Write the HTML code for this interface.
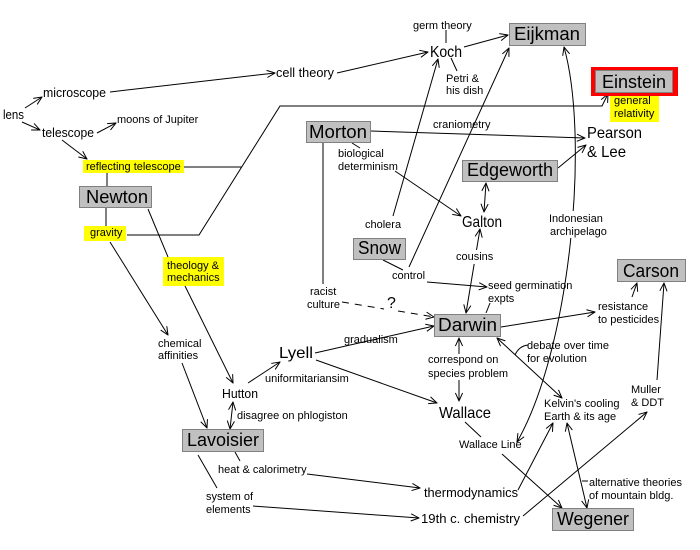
<!DOCTYPE html>
<html><head><meta charset="utf-8"><style>
html,body{margin:0;padding:0;background:#fff}
svg{display:block}
text{font-family:"Liberation Sans",sans-serif;fill:#000}
.s{font-size:11px}
.m{font-size:13px}
.b{font-size:16px}
.x{font-size:18px}
</style></head><body>
<svg width="700" height="550" viewBox="0 0 700 550" xmlns="http://www.w3.org/2000/svg">
<defs>
<marker id="ar" viewBox="0 0 10 10" refX="9.5" refY="5" markerWidth="9" markerHeight="9" markerUnits="userSpaceOnUse" orient="auto-start-reverse">
<path d="M0.5,1 L9.5,5 L0.5,9" fill="none" stroke="#000" stroke-width="1.1"/>
</marker>
</defs>
<rect width="700" height="550" fill="#fff"/>

<!-- yellow labels backgrounds -->
<rect x="83" y="160" width="101" height="13" fill="#ffff00"/>
<rect x="84" y="226" width="42" height="15" fill="#ffff00"/>
<rect x="163" y="257" width="61" height="29" fill="#ffff00"/>
<rect x="610" y="96" width="49" height="26" fill="#ffff00"/>

<g stroke="#000" stroke-width="1" fill="none">
<path d="M25,108 L42,97" marker-end="url(#ar)"/>
<path d="M22,122 L40,130" marker-end="url(#ar)"/>
<path d="M97,133 L116,123" marker-end="url(#ar)"/>
<path d="M62,140 L87,159" marker-end="url(#ar)"/>
<path d="M110,92 L275,73" marker-end="url(#ar)"/>
<path d="M337,73 L428,52" marker-end="url(#ar)"/>
<path d="M446,30 L446,43"/>
<path d="M451,58 L457,71"/>
<path d="M464,47 L508,35" marker-end="url(#ar)"/>
<path d="M393,216 L438,59" marker-end="url(#ar)"/>
<path d="M409,267 L509,48" marker-end="url(#ar)"/>
<path d="M383,260 L403,270"/>
<path d="M427,282 L487,287" marker-end="url(#ar)"/>
<path d="M371,131 L585,138" marker-end="url(#ar)"/>
<path d="M352,143 L360,148"/>
<path d="M395,171 L461,216" marker-end="url(#ar)"/>
<path d="M323,143 L323,284"/>
<path d="M342,302 L384,309" stroke-dasharray="7,6"/>
<path d="M398,311 L434,317" stroke-dasharray="7,6" marker-end="url(#ar)"/>
<path d="M486,183 L484,212" marker-start="url(#ar)" marker-end="url(#ar)"/>
<path d="M558,168 L586,145" marker-end="url(#ar)"/>
<path d="M564,47 C590,140 570,350 517,442" marker-start="url(#ar)" marker-end="url(#ar)"/>
<path d="M480,229 L466,313" marker-start="url(#ar)" marker-end="url(#ar)"/>
<path d="M490,303 L486,313"/>
<path d="M501,327 L595,312" marker-end="url(#ar)"/>
<path d="M632,297 L637,283" marker-end="url(#ar)"/>
<path d="M657,380 L664,283" marker-end="url(#ar)"/>
<path d="M523,516 L647,412" marker-end="url(#ar)"/>
<path d="M497,338 L562,398" marker-start="url(#ar)" marker-end="url(#ar)"/>
<path d="M528,345 Q519,346 515,355"/>
<path d="M465,422 L481,437"/>
<path d="M502,454 L562,508" marker-end="url(#ar)"/>
<path d="M459,354 L459,338" marker-end="url(#ar)"/>
<path d="M459,380 L459,401" marker-end="url(#ar)"/>
<path d="M315,353 L434,326" marker-end="url(#ar)"/>
<path d="M316,360 L437,403" marker-end="url(#ar)"/>
<path d="M248,383 L280,362" marker-end="url(#ar)"/>
<path d="M233,402 L230,429" marker-start="url(#ar)" marker-end="url(#ar)"/>
<path d="M148,209 L168,257"/>
<path d="M185,286 L233,383" marker-end="url(#ar)"/>
<path d="M106,208 L106,226"/>
<path d="M110,242 L168,335" marker-end="url(#ar)"/>
<path d="M182,363 L207,428" marker-end="url(#ar)"/>
<path d="M127,235 L199,235 L280,106 L602,106 L608,94" marker-end="url(#ar)"/>
<path d="M184,167 L242,167"/>
<path d="M107,173 L107,186"/>
<path d="M235,452 L240,461"/>
<path d="M307,474 L420,488" marker-end="url(#ar)"/>
<path d="M198,455 L217,488"/>
<path d="M253,506 L419,518" marker-end="url(#ar)"/>
<path d="M518,490 L553,423" marker-end="url(#ar)"/>
<path d="M567,423 L587,508" marker-start="url(#ar)" marker-end="url(#ar)"/>
<path d="M588,481 L582,481"/>
</g>

<!-- white backgrounds for labels that interrupt lines -->
<rect x="547" y="211" width="60" height="27" fill="#fff"/>
<rect x="454" y="250" width="38" height="14" fill="#fff"/>

<!-- boxes -->
<rect x="509.5" y="23.5" width="76" height="22" fill="#c0c0c0" stroke="#808080"/>
<rect x="591" y="67" width="87" height="29" fill="#ff0000"/>
<rect x="595.5" y="70.5" width="77" height="22" fill="#c0c0c0" stroke="#808080"/>
<rect x="306.5" y="121.5" width="64" height="21" fill="#c0c0c0" stroke="#808080"/>
<rect x="462.5" y="160.5" width="95" height="21" fill="#c0c0c0" stroke="#808080"/>
<rect x="79.5" y="186.5" width="72" height="21" fill="#c0c0c0" stroke="#808080"/>
<rect x="353.5" y="238.5" width="52" height="21" fill="#c0c0c0" stroke="#808080"/>
<rect x="434.5" y="314.5" width="66" height="22" fill="#c0c0c0" stroke="#808080"/>
<rect x="617.5" y="259.5" width="68" height="22" fill="#c0c0c0" stroke="#808080"/>
<rect x="182.5" y="429.5" width="81" height="22" fill="#c0c0c0" stroke="#808080"/>
<rect x="552.5" y="508.5" width="81" height="22" fill="#c0c0c0" stroke="#808080"/>

<!-- box texts -->
<text class="x" x="514" y="40" textLength="66" lengthAdjust="spacingAndGlyphs">Eijkman</text>
<text class="x" x="602" y="88" textLength="64" lengthAdjust="spacingAndGlyphs">Einstein</text>
<text class="x" x="309" y="138" textLength="58" lengthAdjust="spacingAndGlyphs">Morton</text>
<text class="x" x="467" y="176" textLength="86" lengthAdjust="spacingAndGlyphs">Edgeworth</text>
<text class="x" x="86" y="203" textLength="62" lengthAdjust="spacingAndGlyphs">Newton</text>
<text class="x" x="358" y="254" textLength="43" lengthAdjust="spacingAndGlyphs">Snow</text>
<text class="x" x="438" y="331" textLength="59" lengthAdjust="spacingAndGlyphs">Darwin</text>
<text class="x" x="623" y="277" textLength="56" lengthAdjust="spacingAndGlyphs">Carson</text>
<text class="x" x="187" y="446" textLength="72" lengthAdjust="spacingAndGlyphs">Lavoisier</text>
<text class="x" x="557" y="525" textLength="72" lengthAdjust="spacingAndGlyphs">Wegener</text>

<!-- big plain labels -->
<text class="b" x="430" y="57" textLength="32" lengthAdjust="spacingAndGlyphs">Koch</text>
<text class="b" x="462" y="227" textLength="40" lengthAdjust="spacingAndGlyphs">Galton</text>
<text class="b" x="279" y="358" textLength="34" lengthAdjust="spacingAndGlyphs">Lyell</text>
<text class="b" x="439" y="418" textLength="52" lengthAdjust="spacingAndGlyphs">Wallace</text>
<text class="b" x="587" y="138" textLength="55" lengthAdjust="spacingAndGlyphs">Pearson</text>
<text class="b" x="587" y="157" textLength="39" lengthAdjust="spacingAndGlyphs">&amp; Lee</text>
<text class="m" x="222" y="398" textLength="36" lengthAdjust="spacingAndGlyphs">Hutton</text>
<text class="m" x="424" y="497" textLength="94" lengthAdjust="spacingAndGlyphs">thermodynamics</text>
<text class="m" x="421" y="523" textLength="99" lengthAdjust="spacingAndGlyphs">19th c. chemistry</text>
<text class="m" x="43" y="97" textLength="63" lengthAdjust="spacingAndGlyphs">microscope</text>
<text class="m" x="42" y="137" textLength="52" lengthAdjust="spacingAndGlyphs">telescope</text>
<text class="m" x="3" y="119" textLength="21" lengthAdjust="spacingAndGlyphs">lens</text>
<text class="m" x="276" y="77" textLength="58" lengthAdjust="spacingAndGlyphs">cell theory</text>

<!-- small labels -->
<text class="s" x="413" y="29">germ theory</text>
<text class="s" x="446" y="82">Petri &amp;</text>
<text class="s" x="446" y="94">his dish</text>
<text class="s" x="117" y="123">moons of Jupiter</text>
<text class="s" x="86" y="170">reflecting telescope</text>
<text class="s" x="90" y="236">gravity</text>
<text class="s" x="167" y="269">theology &amp;</text>
<text class="s" x="167" y="281">mechanics</text>
<text class="s" x="614" y="104">general</text>
<text class="s" x="614" y="117">relativity</text>
<text class="s" x="158" y="347">chemical</text>
<text class="s" x="158" y="359">affinities</text>
<text class="s" x="265" y="382">uniformitariansim</text>
<text class="s" x="237" y="419">disagree on phlogiston</text>
<text class="s" x="218" y="473">heat &amp; calorimetry</text>
<text class="s" x="206" y="500">system of</text>
<text class="s" x="206" y="513">elements</text>
<text class="s" x="338" y="157">biological</text>
<text class="s" x="338" y="170">determinism</text>
<text class="s" x="433" y="128">craniometry</text>
<text class="s" x="365" y="228">cholera</text>
<text class="s" x="392" y="279">control</text>
<text class="s" x="310" y="295">racist</text>
<text class="s" x="307" y="308">culture</text>
<text x="387" y="308" style="font-size:16px">?</text>
<text class="s" x="456" y="260">cousins</text>
<text class="s" x="488" y="289">seed germination</text>
<text class="s" x="488" y="302">expts</text>
<text class="s" x="549" y="222">Indonesian</text>
<text class="s" x="550" y="235">archipelago</text>
<text class="s" x="344" y="343">gradualism</text>
<text class="s" x="428" y="363">correspond on</text>
<text class="s" x="428" y="377">species problem</text>
<text class="s" x="527" y="349">debate over time</text>
<text class="s" x="527" y="362">for evolution</text>
<text class="s" x="598" y="310">resistance</text>
<text class="s" x="598" y="323">to pesticides</text>
<text class="s" x="459" y="448">Wallace Line</text>
<text class="s" x="544" y="407">Kelvin's cooling</text>
<text class="s" x="544" y="420">Earth &amp; its age</text>
<text class="s" x="631" y="393">Muller</text>
<text class="s" x="631" y="406">&amp; DDT</text>
<text class="s" x="589" y="486">alternative theories</text>
<text class="s" x="589" y="499">of mountain bldg.</text>
</svg>
</body></html>
